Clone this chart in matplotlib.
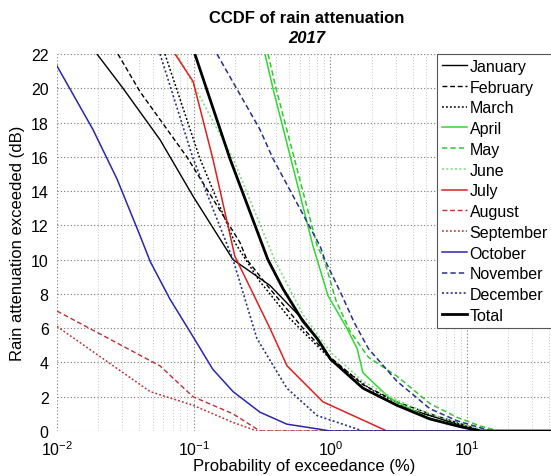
import matplotlib
matplotlib.use("Agg")
import matplotlib.pyplot as plt
from matplotlib.ticker import LogLocator, FixedLocator, NullFormatter

plt.rcParams['font.family'] = ['Liberation Sans', 'DejaVu Sans']
plt.rcParams['mathtext.fontset'] = 'custom'
plt.rcParams['mathtext.rm'] = 'Liberation Sans'

# ---- data (probability of exceedance %, attenuation dB) ----
jan_p = [0.0196, 0.0304, 0.0567, 0.0989, 0.194, 0.361, 0.63, 0.839, 1.0, 1.73, 3.07, 5.35, 8.43, 12.4, 100]
jan_a = [22.0, 20.0, 17.0, 13.7, 10.0, 8.5, 6.5, 5.2, 4.2, 2.5, 1.5, 0.9, 0.4, 0.0, 0.0]

feb_p = [0.0279, 0.0405, 0.089, 0.218, 0.245, 0.361, 0.63, 1.0, 1.73, 3.07, 5.35, 8.43, 13.0, 100]
feb_a = [22.0, 19.8, 16.0, 11.0, 10.0, 8.3, 6.0, 4.3, 2.7, 1.7, 1.0, 0.5, 0.0, 0.0]

mar_p = [0.0616, 0.111, 0.20, 0.30, 0.50, 1.0, 2.0, 4.0, 8.0, 13.0, 100]
mar_a = [22.0, 15.9, 11.0, 8.8, 6.6, 4.2, 2.4, 1.2, 0.5, 0.0, 0.0]

apr_p = [0.332, 0.38, 0.746, 0.80, 0.96, 1.32, 1.57, 1.73, 2.73, 5.09, 8.43, 12.4, 100]
apr_a = [22.0, 20.0, 10.8, 10.0, 7.9, 6.0, 4.8, 3.4, 1.9, 0.8, 0.3, 0.0, 0.0]

may_p = [0.35, 0.40, 0.80, 0.90, 1.10, 1.40, 1.90, 3.07, 5.35, 8.43, 12.4, 17.0, 100]
may_a = [22.0, 20.0, 10.8, 10.0, 7.6, 5.8, 4.3, 3.2, 1.6, 0.8, 0.3, 0.0, 0.0]

jun_p = [0.0755, 0.194, 0.39, 0.63, 1.0, 1.73, 3.07, 5.35, 10.0, 15.0, 100]
jun_a = [22.0, 15.9, 10.0, 6.8, 4.6, 2.9, 1.8, 1.0, 0.3, 0.0, 0.0]

jul_p = [0.073, 0.099, 0.138, 0.20, 0.361, 0.482, 0.883, 2.59, 100]
jul_a = [22.0, 20.4, 15.9, 10.2, 6.0, 3.8, 1.7, 0.0, 0.0]

aug_p = [0.01, 0.0567, 0.0989, 0.194, 0.305, 100]
aug_a = [7.0, 3.8, 2.0, 1.0, 0.0, 0.0]

sep_p = [0.01, 0.048, 0.0989, 0.194, 0.29, 100]
sep_a = [6.1, 2.3, 1.5, 0.5, 0.0, 0.0]

oct_p = [0.01, 0.0183, 0.0275, 0.0405, 0.048, 0.067, 0.099, 0.138, 0.194, 0.305, 0.48, 0.84, 1.0, 100]
oct_a = [21.3, 17.6, 14.7, 11.4, 9.9, 7.7, 5.5, 3.6, 2.3, 1.1, 0.4, 0.1, 0.0, 0.0]

nov_p = [0.148, 0.305, 0.38, 0.84, 0.91, 1.2, 1.5, 1.9, 3.07, 5.35, 8.43, 15.0, 100]
nov_a = [22.0, 17.6, 15.9, 10.8, 10.0, 8.0, 6.3, 4.8, 2.9, 1.3, 0.6, 0.0, 0.0]

dec_p = [0.0567, 0.099, 0.194, 0.29, 0.48, 0.80, 1.73, 100]
dec_a = [22.0, 15.9, 10.0, 5.4, 2.5, 0.9, 0.0, 0.0]

tot_p = [0.102, 0.184, 0.349, 0.45, 0.63, 0.80, 1.0, 1.73, 3.07, 5.35, 8.43, 12.4, 100]
tot_a = [22.0, 15.9, 10.0, 8.3, 6.4, 5.4, 4.2, 2.5, 1.5, 0.7, 0.3, 0.0, 0.0]

labels = ["January", "February", "March", "April", "May", "June", "July",
          "August", "September", "October", "November", "December", "Total"]
xs = [jan_p, feb_p, mar_p, apr_p, may_p, jun_p, jul_p, aug_p, sep_p, oct_p, nov_p, dec_p, tot_p]
ys = [jan_a, feb_a, mar_a, apr_a, may_a, jun_a, jul_a, aug_a, sep_a, oct_a, nov_a, dec_a, tot_a]

dashed = (0, (3.5, 2.0))
dotted = (0, (1.2, 1.4))
styles = [
    dict(color='black', ls='-', lw=1.0),
    dict(color='black', ls=dashed, lw=1.0),
    dict(color='black', ls=dotted, lw=1.1),
    dict(color='#33d633', ls='-', lw=1.1),
    dict(color='#33c833', ls=dashed, lw=1.1),
    dict(color='#7fe07f', ls=dotted, lw=1.2),
    dict(color='#e02020', ls='-', lw=1.1),
    dict(color='#c03030', ls=dashed, lw=1.0),
    dict(color='#c03030', ls=dotted, lw=1.1),
    dict(color='#2828b0', ls='-', lw=1.1),
    dict(color='#28308f', ls=dashed, lw=1.1),
    dict(color='#28308f', ls=dotted, lw=1.2),
    dict(color='black', ls='-', lw=2.0),
]

fig = plt.figure(figsize=(5.51, 4.77), dpi=100)
ax = fig.add_axes([57/551, 45/477, 1 - 57/551, 377/477])

for x, y, lab, st in zip(xs, ys, labels, styles):
    ax.plot(x, y, label=lab, **st)

ax.set_xscale('log')
ax.set_xlim(0.01, 10**1.614)
ax.set_ylim(0, 22)
ax.set_yticks(range(0, 23, 2))
ax.xaxis.set_major_locator(FixedLocator([0.01, 0.1, 1, 10]))
ax.xaxis.set_minor_locator(LogLocator(base=10, subs=range(2, 10), numticks=20))
ax.xaxis.set_minor_formatter(NullFormatter())

ax.grid(True, which='major', axis='both', color='#777777', ls=(0, (1, 2)), lw=0.8)
ax.grid(True, which='minor', axis='x', color='#c8c8c8', ls=(0, (1, 2)), lw=0.7)
ax.set_axisbelow(True)
for s in ax.spines.values():
    s.set_visible(False)
ax.tick_params(which='both', length=0, labelsize=11.5, pad=6)

ax.set_xlabel("Probability of exceedance (%)", fontsize=12, labelpad=0)
ax.set_ylabel("Rain attenuation exceeded (dB)", fontsize=12, labelpad=4)

fig.text(0.556, 0.962, "CCDF of rain attenuation", ha='center', va='center',
         fontsize=12, fontweight='bold')
fig.text(0.556, 0.919, "2017", ha='center', va='center',
         fontsize=12, fontweight='bold', fontstyle='italic')

leg = ax.legend(loc='upper left', bbox_to_anchor=(437/551, 1 - 55/477),
                bbox_transform=fig.transFigure, fontsize=11.5,
                handlelength=1.6, handletextpad=0.15, labelspacing=0.36,
                borderpad=0.3, borderaxespad=0, fancybox=False,
                framealpha=1.0, edgecolor='#555555')
leg.get_frame().set_linewidth(0.8)

fig.savefig("out.png", dpi=100)
